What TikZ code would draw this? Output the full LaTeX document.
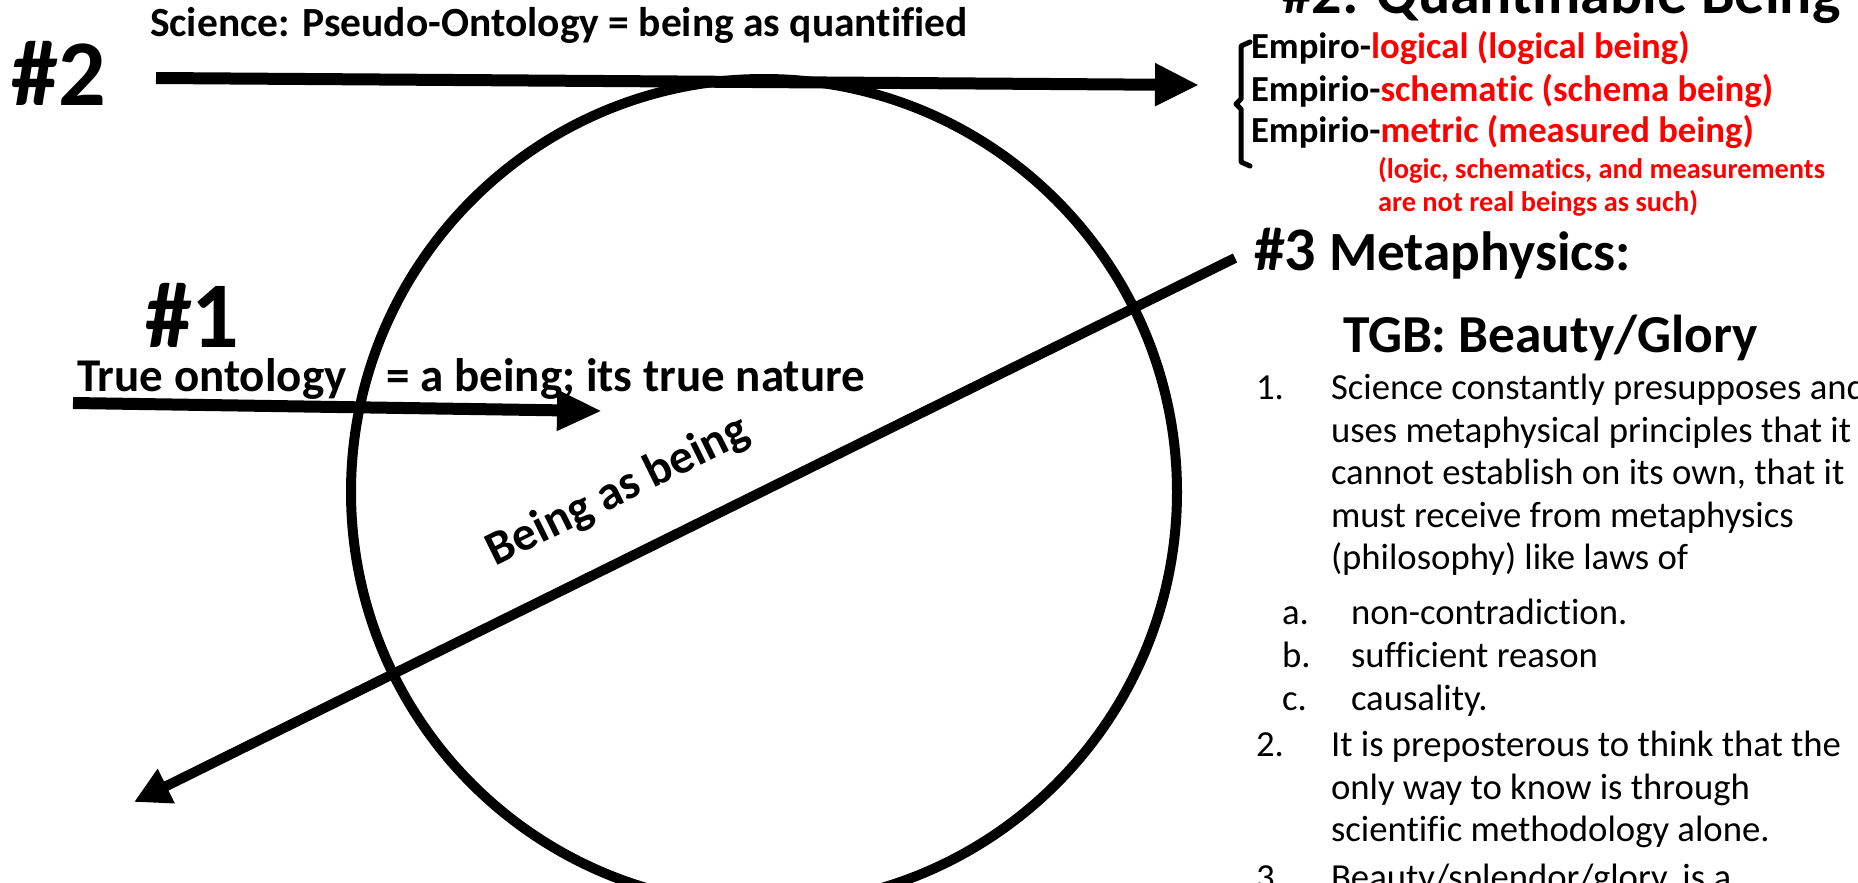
\documentclass[tikz,border=0pt]{standalone}
\usepackage{fontspec}
\setmainfont{Carlito}[Ligatures=NoCommon]
\usetikzlibrary{arrows.meta}
\begin{document}
\begin{tikzpicture}[x=1pt,y=-1pt,
  txt/.style={inner sep=0pt, outer sep=0pt, anchor=base west},
  bignum/.style={txt, font=\fontsize{94}{100}\selectfont\bfseries},
  head/.style={txt, font=\fontsize{41.5}{48}\selectfont\bfseries},
  headB/.style={txt, font=\fontsize{47}{54}\selectfont\bfseries},
  title/.style={txt, font=\fontsize{60}{70}\selectfont\bfseries},
  emp/.style={txt, font=\fontsize{36.7}{42}\selectfont\bfseries},
  note/.style={txt, font=\fontsize{28.4}{33}\selectfont\bfseries, text=red},
  item/.style={txt, font=\fontsize{36.7}{42}\selectfont},
  heavy/.style={line width=12pt},
  medium/.style={line width=10pt},
]
\useasboundingbox (0,0) rectangle (1858,883);
\clip (0,0) rectangle (1858,883);

% circle
\node[draw, circle, minimum size=826pt, inner sep=0pt, line width=10pt] (circ) at (764,492) {};

% arrow #2
\coordinate (a2s) at (156,78);
\coordinate (a2e) at (1199,85);
\draw[heavy, -{Triangle[length=44pt,width=40pt]}] (a2s) -- (a2e);

% arrow #1
\coordinate (a1s) at (73,403);
\coordinate (a1e) at (602,411);
\draw[heavy, -{Triangle[length=45pt,width=38pt]}] (a1s) -- (a1e);

% line #3
\coordinate (a3s) at (1235,258);
\coordinate (a3e) at (134,802);
\draw[medium, -{Triangle[length=36pt,width=36pt]}] (a3s) -- (a3e);

% left labels
\node[bignum] (n2) at (12,106) {\#2};
\node[head] (sci) at (150,37) {Science: Pseudo-Ontology = being as quantified};
\node[bignum] (n1) at (145,347) {\#1};
\node[headB] (tru) at (77,391) {True ontology\hspace{0.85em}= a being; its true nature};
\node[txt, font=\fontsize{48}{54}\selectfont\bfseries, anchor=base, rotate=26.3] (bab) at (624,503) {Being as being};

% right column
\node[title] (qb) at (1282,14) {\#2: Quantifiable Being};
\draw[line width=5pt, line cap=round, line join=round] (1250,42) -- (1241,46) -- (1241,99) -- (1236,104) -- (1241,109) -- (1241,162) -- (1250,166);
\node[emp] (e1) at (1251,59) {Empiro-\textcolor{red}{logical (logical being)}};
\node[emp] (e2) at (1251,101) {Empirio-\textcolor{red}{schematic (schema being)}};
\node[emp] (e3) at (1251,142) {Empirio-\textcolor{red}{metric (measured being)}};
\node[note] (nt1) at (1378,178) {(logic, schematics, and measurements};
\node[note] (nt2) at (1378,211) {are not real beings as such)};

\node[txt, font=\fontsize{62}{70}\selectfont\bfseries] (n3) at (1254,270) {\#3};
\node[txt, font=\fontsize{55.3}{60}\selectfont\bfseries] (meta) at (1329,270) {Metaphysics:};
\node[txt, font=\fontsize{53.4}{64}\selectfont\bfseries] (tgb) at (1343,352) {TGB: Beauty/Glory};

% list
\node[item] (l1n) at (1256,399) {1.};
\node[item] (l1a) at (1331,399) {Science constantly presupposes and};
\node[item] (l1b) at (1331,442) {uses metaphysical principles that it};
\node[item] (l1c) at (1331,484) {cannot establish on its own, that it};
\node[item] (l1d) at (1331,527) {must receive from metaphysics};
\node[item] (l1e) at (1331,569) {(philosophy) like laws of};
\node[item] (lan) at (1282,624) {a.};
\node[item] (la)  at (1351,624) {non-contradiction.};
\node[item] (lbn) at (1282,667) {b.};
\node[item] (lb)  at (1351,667) {sufficient reason};
\node[item] (lcn) at (1282,710) {c.};
\node[item] (lc)  at (1351,710) {causality.};
\node[item] (l2n) at (1256,756) {2.};
\node[item] (l2a) at (1331,756) {It is preposterous to think that the};
\node[item] (l2b) at (1331,799) {only way to know is through};
\node[item] (l2c) at (1331,841) {scientific methodology alone.};
\node[item] (l3n) at (1256,889) {3.};
\node[item] (l3a) at (1331,889) {Beauty/splendor/glory, is a};
\end{tikzpicture}
\end{document}
